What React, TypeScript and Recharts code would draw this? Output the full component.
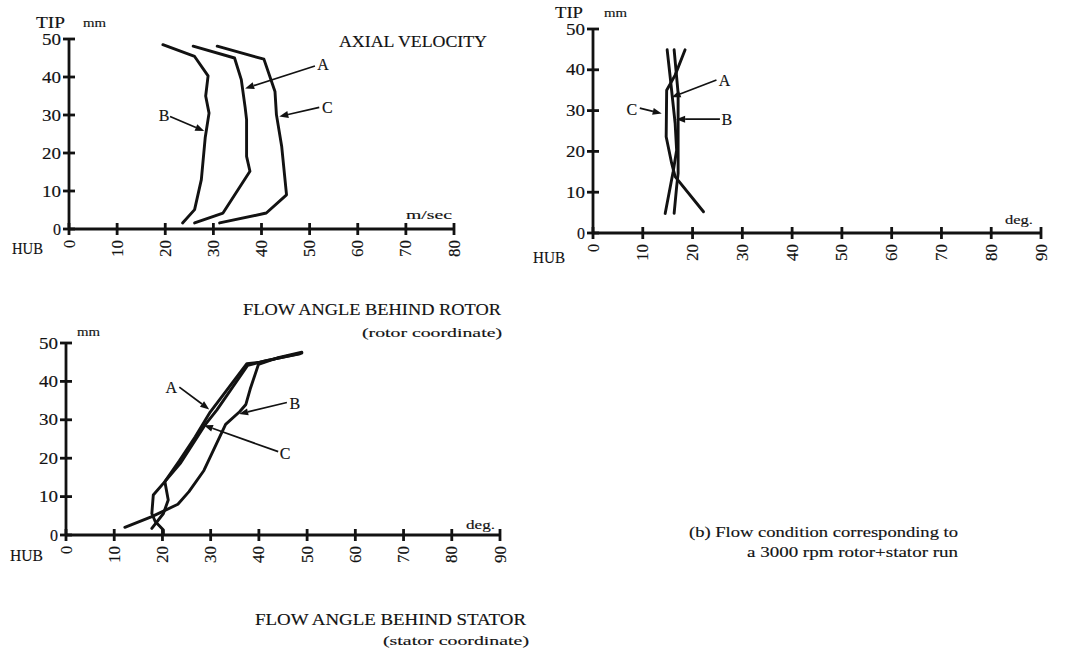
import React from 'react';
import { ScatterChart, Scatter, XAxis, YAxis, ReferenceLine } from 'recharts';

const FONT = '"Liberation Serif", "DejaVu Serif", serif';
const INK = '#121212';

// ---- Axial velocity (m/sec) against radial position (mm) ----
const axialA = [
  { x: 25.8, y: 48.1 }, { x: 34.4, y: 45.0 }, { x: 35.8, y: 39.3 }, { x: 36.6, y: 32.0 },
  { x: 36.9, y: 28.8 }, { x: 36.9, y: 19.1 }, { x: 37.6, y: 15.2 }, { x: 32.0, y: 4.2 }, { x: 26.1, y: 1.6 },
];
const axialB = [
  { x: 19.5, y: 48.5 }, { x: 26.1, y: 45.4 }, { x: 28.9, y: 40.3 }, { x: 28.4, y: 35.0 },
  { x: 29.1, y: 30.5 }, { x: 28.3, y: 24.0 }, { x: 27.5, y: 13.0 }, { x: 26.1, y: 5.1 }, { x: 23.6, y: 1.6 },
];
const axialC = [
  { x: 30.8, y: 48.1 }, { x: 40.5, y: 44.7 }, { x: 42.8, y: 36.2 }, { x: 43.1, y: 30.1 },
  { x: 44.2, y: 21.7 }, { x: 45.2, y: 9.0 }, { x: 41.0, y: 4.2 }, { x: 31.3, y: 1.6 },
];

// ---- Flow angle (deg.), top-right panel ----
const statorA = [
  { x: 16.3, y: 44.9 }, { x: 17.1, y: 34.2 }, { x: 17.1, y: 14.6 }, { x: 16.8, y: 11.3 }, { x: 16.3, y: 4.8 },
];
const statorB = [
  { x: 14.9, y: 44.9 }, { x: 15.5, y: 38.3 }, { x: 16.5, y: 26.9 }, { x: 16.8, y: 20.3 },
  { x: 16.1, y: 15.0 }, { x: 14.5, y: 4.8 },
];
const statorC = [
  { x: 18.5, y: 44.9 }, { x: 16.5, y: 38.7 }, { x: 14.8, y: 35.0 }, { x: 14.7, y: 23.6 },
  { x: 15.8, y: 17.1 }, { x: 16.5, y: 13.8 }, { x: 22.2, y: 5.2 },
];

// ---- Flow angle behind rotor (deg.), bottom-left panel ----
const rotorA = [
  { x: 20.2, y: 0.0 }, { x: 20.2, y: 1.3 }, { x: 18.5, y: 3.5 }, { x: 17.8, y: 5.6 }, { x: 18.1, y: 10.4 },
  { x: 20.5, y: 13.9 }, { x: 23.5, y: 19.3 }, { x: 26.8, y: 25.6 }, { x: 29.9, y: 32.0 },
  { x: 37.5, y: 44.6 }, { x: 40.2, y: 45.0 }, { x: 48.9, y: 47.4 },
];
const rotorB = [
  { x: 12.2, y: 2.0 }, { x: 17.8, y: 4.8 }, { x: 23.2, y: 8.0 }, { x: 25.5, y: 11.3 }, { x: 28.6, y: 16.8 },
  { x: 33.1, y: 28.8 }, { x: 36.0, y: 32.1 }, { x: 37.3, y: 34.0 }, { x: 38.2, y: 38.0 },
  { x: 39.9, y: 44.4 }, { x: 44.0, y: 46.2 }, { x: 48.9, y: 47.6 },
];
const rotorC = [
  { x: 17.8, y: 1.7 }, { x: 20.2, y: 5.6 }, { x: 21.2, y: 9.1 }, { x: 20.5, y: 13.9 },
  { x: 23.8, y: 18.8 }, { x: 28.8, y: 28.6 }, { x: 31.3, y: 32.6 }, { x: 37.7, y: 44.2 },
  { x: 41.5, y: 45.4 }, { x: 48.5, y: 47.2 },
];

// ---- Tick labels ----
const velocityTicks = [0, 10, 20, 30, 40, 50, 60, 70, 80];
const angleTicks = [0, 10, 20, 30, 40, 50, 60, 70, 80, 90];
const radiusTicks = [0, 10, 20, 30, 40, 50];

type Arrow = { label: string; from: [number, number]; to: [number, number]; ldx: number; ldy: number };

const axialArrows: Arrow[] = [
  { label: 'A', from: [51.1, 42.9], to: [36.6, 37.0], ldx: 8, ldy: -1 },
  { label: 'C', from: [52.0, 32.0], to: [43.7, 29.6], ldx: 8, ldy: 0 },
  { label: 'B', from: [21.0, 29.6], to: [28.1, 25.8], ldx: -6, ldy: -1 },
];
const statorArrows: Arrow[] = [
  { label: 'A', from: [24.8, 37.5], to: [15.8, 33.3], ldx: 8, ldy: 0 },
  { label: 'B', from: [25.5, 27.9], to: [16.7, 27.9], ldx: 7, ldy: 0 },
  { label: 'C', from: [9.4, 30.6], to: [13.8, 29.3], ldx: -8, ldy: 1 },
];
const rotorArrows: Arrow[] = [
  { label: 'A', from: [23.5, 38.5], to: [29.7, 32.7], ldx: -8, ldy: 0 },
  { label: 'B', from: [45.8, 34.5], to: [35.9, 31.5], ldx: 8, ldy: 1 },
  { label: 'C', from: [44.0, 21.7], to: [28.6, 28.6], ldx: 7, ldy: 2 },
];

const TEXT_STROKE = 0.15;

const YTick = (props: any) => {
  const { x, y, payload } = props;
  const s = String(payload.value);
  return (
    <g>
      <line x1={x - 6} x2={x + 6} y1={y} y2={y} stroke={INK} strokeWidth={2.8} />
      <text
        x={x - 8}
        y={y}
        textAnchor="end"
        dominantBaseline="central"
        fontFamily={FONT}
        fontSize={16}
        fill={INK}
        stroke={INK}
        strokeWidth={TEXT_STROKE}
        textLength={s.length === 1 ? 8 : 19}
        lengthAdjust="spacingAndGlyphs"
      >
        {s}
      </text>
    </g>
  );
};

const XTick = (props: any) => {
  const { x, y, payload } = props;
  const s = String(payload.value);
  const ty = y + 11;
  return (
    <g>
      <line x1={x} x2={x} y1={y - 6} y2={y + 6} stroke={INK} strokeWidth={2.8} />
      <text
        x={x}
        y={ty}
        transform={`rotate(-90 ${x} ${ty})`}
        textAnchor="end"
        dominantBaseline="central"
        fontFamily={FONT}
        fontSize={16}
        fill={INK}
        stroke={INK}
        strokeWidth={TEXT_STROKE}
        textLength={s.length === 1 ? 8 : 17}
        lengthAdjust="spacingAndGlyphs"
      >
        {s}
      </text>
    </g>
  );
};

const ArrowShape = (p: any) => {
  const { x1, y1, x2, y2, label, ldx, ldy } = p;
  const dx = x2 - x1;
  const dy = y2 - y1;
  const len = Math.sqrt(dx * dx + dy * dy) || 1;
  const ux = dx / len;
  const uy = dy / len;
  const hl = 9;
  const hw = 3.5;
  const bx = x2 - ux * hl;
  const by = y2 - uy * hl;
  const pts = `${x2},${y2} ${bx - uy * hw},${by + ux * hw} ${bx + uy * hw},${by - ux * hw}`;
  return (
    <g>
      <line x1={x1} y1={y1} x2={bx} y2={by} stroke={INK} strokeWidth={1.7} />
      <polygon points={pts} fill={INK} />
      <text
        x={x1 + ldx}
        y={y1 + ldy}
        textAnchor="middle"
        dominantBaseline="central"
        fontFamily={FONT}
        fontSize={16}
        fill={INK}
        stroke={INK}
        strokeWidth={TEXT_STROKE}
      >
        {label}
      </text>
    </g>
  );
};

type PanelProps = {
  left: number;
  top: number;
  plotW: number;
  plotH: number;
  xMax: number;
  xTicks: number[];
  series: { x: number; y: number }[][];
  arrows: Arrow[];
};

function Panel({ left, top, plotW, plotH, xMax, xTicks, series, arrows }: PanelProps) {
  const ml = 60;
  const mt = 20;
  const mr = 20;
  const mb = 40;
  return (
    <div style={{ position: 'absolute', left: left - ml, top: top - mt }}>
      <ScatterChart
        width={plotW + ml + mr}
        height={plotH + mt + mb}
        margin={{ top: mt, right: mr, bottom: 0, left: 0 }}
        style={{ overflow: 'visible' }}
      >
        <XAxis
          type="number"
          dataKey="x"
          domain={[0, xMax]}
          ticks={xTicks}
          interval={0}
          height={mb}
          tickSize={0}
          tickMargin={0}
          tickLine={false}
          axisLine={{ stroke: INK, strokeWidth: 2.8 }}
          tick={(p: any) => <XTick {...p} />}
          allowDataOverflow
        />
        <YAxis
          type="number"
          dataKey="y"
          domain={[0, 50]}
          ticks={radiusTicks}
          interval={0}
          width={ml}
          tickSize={0}
          tickMargin={0}
          tickLine={false}
          axisLine={{ stroke: INK, strokeWidth: 2.8 }}
          tick={(p: any) => <YTick {...p} />}
          allowDataOverflow
        />
        {series.map((d, i) => (
          <Scatter
            key={i}
            data={d}
            line={{ stroke: INK, strokeWidth: 2.9, strokeLinejoin: 'round', strokeLinecap: 'round' } as any}
            lineJointType="linear"
            shape={() => <g />}
            isAnimationActive={false}
          />
        ))}
        {arrows.map((a, i) => (
          <ReferenceLine
            key={`arr-${i}`}
            segment={[{ x: a.from[0], y: a.from[1] }, { x: a.to[0], y: a.to[1] }]}
            ifOverflow="visible"
            shape={(p: any) => <ArrowShape {...p} label={a.label} ldx={a.ldx} ldy={a.ldy} />}
          />
        ))}
      </ScatterChart>
    </div>
  );
}

type Caption = { t: string; x: number; y: number; s: number; w: number };
const captions: Caption[] = [
  { t: 'TIP', x: 36, y: 28, s: 16, w: 29 },
  { t: 'mm', x: 83, y: 27, s: 12, w: 23 },
  { t: 'AXIAL VELOCITY', x: 339, y: 47, s: 16, w: 148 },
  { t: 'm/sec', x: 406, y: 219, s: 13, w: 46 },
  { t: 'HUB', x: 12, y: 254, s: 17, w: 31 },
  { t: 'TIP', x: 555, y: 18, s: 16, w: 28 },
  { t: 'mm', x: 604, y: 17, s: 12, w: 23 },
  { t: 'deg.', x: 1005, y: 224, s: 13, w: 28 },
  { t: 'HUB', x: 533, y: 263, s: 17, w: 32 },
  { t: 'FLOW ANGLE BEHIND ROTOR', x: 243, y: 315, s: 16, w: 258 },
  { t: '(rotor coordinate)', x: 362, y: 337, s: 13, w: 140 },
  { t: 'mm', x: 77, y: 336, s: 12, w: 23 },
  { t: 'deg.', x: 466, y: 529, s: 13, w: 29 },
  { t: 'HUB', x: 10, y: 561, s: 17, w: 33 },
  { t: '(b) Flow condition corresponding to', x: 689, y: 537, s: 15, w: 269 },
  { t: 'a 3000 rpm rotor+stator run', x: 747, y: 557, s: 15, w: 211 },
  { t: 'FLOW ANGLE BEHIND STATOR', x: 255, y: 625, s: 16, w: 271 },
  { t: '(stator coordinate)', x: 383, y: 645, s: 13, w: 146 },
];

export default function App() {
  return (
    <div
      style={{
        position: 'absolute',
        left: 0,
        top: 0,
        width: 1066,
        height: 656,
        background: '#ffffff',
        overflow: 'hidden',
      }}
    >
      <Panel left={69} top={39} plotW={385} plotH={190} xMax={80} xTicks={velocityTicks}
        series={[axialA, axialB, axialC]} arrows={axialArrows} />
      <Panel left={593} top={29} plotW={448} plotH={204} xMax={90} xTicks={angleTicks}
        series={[statorA, statorB, statorC]} arrows={statorArrows} />
      <Panel left={66} top={343} plotW={434} plotH={192} xMax={90} xTicks={angleTicks}
        series={[rotorA, rotorB, rotorC]} arrows={rotorArrows} />
      <svg
        width={1066}
        height={656}
        style={{ position: 'absolute', left: 0, top: 0, pointerEvents: 'none' }}
      >
        {captions.map((c, i) => (
          <text
            key={i}
            x={c.x}
            y={c.y}
            fontFamily={FONT}
            fontSize={c.s}
            fill={INK}
            stroke={INK}
            strokeWidth={TEXT_STROKE}
            textLength={c.w}
            lengthAdjust="spacingAndGlyphs"
          >
            {c.t}
          </text>
        ))}
      </svg>
    </div>
  );
}
